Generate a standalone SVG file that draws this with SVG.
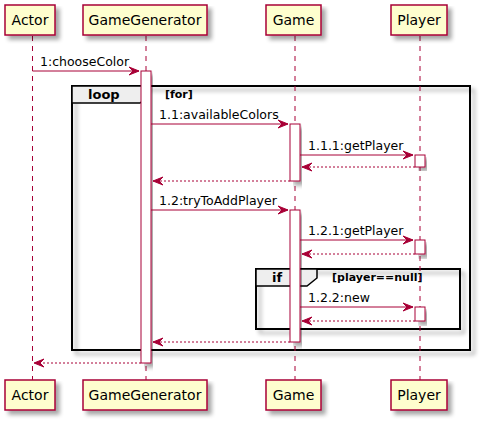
<svg xmlns="http://www.w3.org/2000/svg" width="483" height="423" viewBox="0 0 483 423">
<defs>
<filter id="sh" x="-10%" y="-10%" width="130%" height="140%">
<feGaussianBlur in="SourceAlpha" stdDeviation="2"/>
<feOffset dx="4" dy="4" result="b"/>
<feComponentTransfer><feFuncA type="linear" slope="0.35"/></feComponentTransfer>
<feMerge><feMergeNode/><feMergeNode in="SourceGraphic"/></feMerge>
</filter>
</defs>
<style>
.p{fill:#FEFECE;stroke:#A80036;stroke-width:1.5}
.pt{font-family:"DejaVu Sans",sans-serif;font-size:14px;fill:#000;text-anchor:middle}
.ll{stroke:#A80036;stroke-width:1;stroke-dasharray:5,5;fill:none}
.act{fill:#FFFFFF;stroke:#A80036;stroke-width:1}
.fr{fill:none;stroke:#000;stroke-width:2}
.tab{fill:#EEEEEE;stroke:#000;stroke-width:1.5}
.ft{font-family:"DejaVu Sans",sans-serif;font-size:13px;font-weight:bold;fill:#000}
.gt{font-family:"DejaVu Sans",sans-serif;font-size:11px;font-weight:bold;fill:#000}
.m{stroke:#A80036;stroke-width:1;fill:none}
.r{stroke:#A80036;stroke-width:1;fill:none;stroke-dasharray:2,2}
.ah{fill:#A80036;stroke:#A80036;stroke-width:1}
.mt{font-family:"DejaVu Sans",sans-serif;font-size:12.5px;fill:#000}
</style>

<g id="frames">
<g id="loop">
<rect class="fr" x="72" y="86" width="398" height="264" filter="url(#sh)"/>
<path class="tab" d="M72,86 L150,86 L150,95 L140,103 L72,103 Z"/>
<text class="ft" x="88" y="99">loop</text>
<text class="gt" x="165" y="98">[for]</text>
</g>
<g id="if">
<rect class="fr" x="256" y="269" width="204" height="60" filter="url(#sh)"/>
<path class="tab" d="M256,269 L317,269 L317,278 L307,286 L256,286 Z"/>
<text class="ft" x="272" y="282">if</text>
<text class="gt" x="332" y="281">[player==null]</text>
</g>
</g>

<g id="lifelines">
<line class="ll" x1="32.5" y1="36" x2="32.5" y2="380"/>
<line class="ll" x1="146" y1="36" x2="146" y2="380"/>
<line class="ll" x1="295" y1="36" x2="295" y2="380"/>
<line class="ll" x1="420" y1="36" x2="420" y2="380"/>
</g>

<g id="activations">
<rect class="act" x="141" y="71" width="10" height="292" filter="url(#sh)"/>
<rect class="act" x="290" y="124" width="10" height="57" filter="url(#sh)"/>
<rect class="act" x="415" y="155" width="10" height="12" filter="url(#sh)"/>
<rect class="act" x="290" y="210" width="10" height="132" filter="url(#sh)"/>
<rect class="act" x="415" y="240" width="10" height="14" filter="url(#sh)"/>
<rect class="act" x="415" y="307" width="10" height="14" filter="url(#sh)"/>
</g>

<g id="connectors">
<line class="m" x1="32.5" y1="71" x2="139" y2="71"/>
<polygon class="ah" points="129,67 139,71 129,75 133,71"/>
<text class="mt" x="40" y="66">1:chooseColor</text>

<line class="m" x1="151" y1="124" x2="288" y2="124"/>
<polygon class="ah" points="278,120 288,124 278,128 282,124"/>
<text class="mt" x="159" y="119">1.1:availableColors</text>

<line class="m" x1="300" y1="155" x2="413" y2="155"/>
<polygon class="ah" points="403,151 413,155 403,159 407,155"/>
<text class="mt" x="308" y="150">1.1.1:getPlayer</text>

<line class="r" x1="415" y1="167" x2="302" y2="167"/>
<polygon class="ah" points="312,163 302,167 312,171 308,167"/>

<line class="r" x1="290" y1="181" x2="153" y2="181"/>
<polygon class="ah" points="163,177 153,181 163,185 159,181"/>

<line class="m" x1="151" y1="210" x2="288" y2="210"/>
<polygon class="ah" points="278,206 288,210 278,214 282,210"/>
<text class="mt" x="159" y="205">1.2:tryToAddPlayer</text>

<line class="m" x1="300" y1="240" x2="413" y2="240"/>
<polygon class="ah" points="403,236 413,240 403,244 407,240"/>
<text class="mt" x="308" y="235">1.2.1:getPlayer</text>

<line class="r" x1="415" y1="254" x2="302" y2="254"/>
<polygon class="ah" points="312,250 302,254 312,258 308,254"/>

<line class="m" x1="300" y1="307" x2="413" y2="307"/>
<polygon class="ah" points="403,303 413,307 403,311 407,307"/>
<text class="mt" x="308" y="302">1.2.2:new</text>

<line class="r" x1="415" y1="321" x2="302" y2="321"/>
<polygon class="ah" points="312,317 302,321 312,325 308,321"/>

<line class="r" x1="290" y1="342" x2="153" y2="342"/>
<polygon class="ah" points="163,338 153,342 163,346 159,342"/>

<line class="r" x1="141" y1="363" x2="34" y2="363"/>
<polygon class="ah" points="44,359 34,363 44,367 40,363"/>
</g>

<g id="Actor">
<rect class="p" x="5" y="5" width="50" height="30" filter="url(#sh)"/>
<text class="pt" x="30" y="25">Actor</text>
<rect class="p" x="5" y="380" width="50" height="30" filter="url(#sh)"/>
<text class="pt" x="30" y="400">Actor</text>
</g>
<g id="GameGenerator">
<rect class="p" x="83" y="5" width="124" height="30" filter="url(#sh)"/>
<text class="pt" x="145" y="25">GameGenerator</text>
<rect class="p" x="83" y="380" width="124" height="30" filter="url(#sh)"/>
<text class="pt" x="145" y="400">GameGenerator</text>
</g>
<g id="Game">
<rect class="p" x="266" y="5" width="55" height="30" filter="url(#sh)"/>
<text class="pt" x="293.5" y="25">Game</text>
<rect class="p" x="266" y="380" width="55" height="30" filter="url(#sh)"/>
<text class="pt" x="293.5" y="400">Game</text>
</g>
<g id="Player">
<rect class="p" x="391" y="5" width="56" height="30" filter="url(#sh)"/>
<text class="pt" x="419" y="25">Player</text>
<rect class="p" x="391" y="380" width="56" height="30" filter="url(#sh)"/>
<text class="pt" x="419" y="400">Player</text>
</g>
</svg>
